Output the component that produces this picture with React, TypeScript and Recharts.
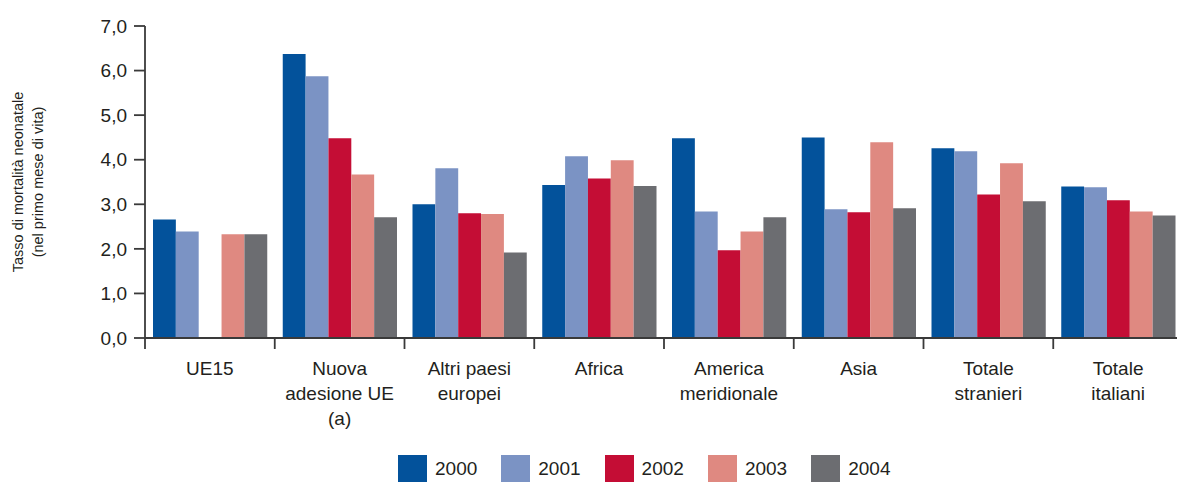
import React from "react";
import { BarChart, Bar, XAxis, YAxis, Label } from "recharts";

const categories = [
  "UE15",
  "Nuova\nadesione UE\n(a)",
  "Altri paesi\neuropei",
  "Africa",
  "America\nmeridionale",
  "Asia",
  "Totale\nstranieri",
  "Totale\nitaliani",
];

const years = ["2000", "2001", "2002", "2003", "2004"];
const colors = ["#03529B", "#7B93C4", "#C40D35", "#DF8981", "#6C6D71"];

const v2000 = [2.66, 6.37, 3.0, 3.43, 4.48, 4.5, 4.26, 3.4];
const v2001 = [2.39, 5.87, 3.81, 4.08, 2.84, 2.89, 4.19, 3.38];
const v2002 = [null, 4.48, 2.8, 3.58, 1.97, 2.82, 3.22, 3.09];
const v2003 = [2.33, 3.67, 2.78, 3.99, 2.39, 4.39, 3.92, 2.84];
const v2004 = [2.33, 2.71, 1.92, 3.41, 2.71, 2.91, 3.07, 2.75];

const yTicks = [0, 1, 2, 3, 4, 5, 6, 7];

const series = [v2000, v2001, v2002, v2003, v2004];
const data = categories.map((name, i) => {
  const row: Record<string, string | number | null> = { name };
  years.forEach((y, k) => (row[y] = series[k][i]));
  return row;
});

const FONT = "'Liberation Sans', Arial, Helvetica, sans-serif";
const TEXT = "#231f20";
const AXIS = "#3a3a3a";
const W = 1200;
const H = 482;
const margin = { top: 26, right: 17, left: 0, bottom: 0 };
const Y_W = 145;
const band = (W - margin.left - margin.right - Y_W) / categories.length;

const CategoryTick = (props: any) => {
  const { x, y, payload } = props;
  const axisY = y - 11;
  const lines = String(payload.value).split("\n");
  return (
    <g>
      <line x1={x - band / 2} x2={x - band / 2} y1={axisY} y2={axisY + 11} stroke={AXIS} strokeWidth={1.8} />
      <text textAnchor="middle" fill={TEXT} fontSize={19} fontFamily={FONT}>
        {lines.map((l, i) => (
          <tspan key={i} x={x} y={y + 26 + i * 25}>{l}</tspan>
        ))}
      </text>
    </g>
  );
};

const YLabel = (props: any) => {
  const cy = 182;
  return (
    <g fill={TEXT} fontSize={14.5} fontFamily={FONT}>
      <text transform={`translate(18, ${cy}) rotate(-90)`} textAnchor="middle" dominantBaseline="central">
        Tasso di mortalità neonatale
      </text>
      <text transform={`translate(37.5, ${cy}) rotate(-90)`} textAnchor="middle" dominantBaseline="central">
        (nel primo mese di vita)
      </text>
    </g>
  );
};

export default function App() {
  return (
    <div style={{ position: "absolute", left: 0, top: 0, width: 1177, height: 482, overflow: "hidden", background: "#fff", fontFamily: FONT }}>
      <BarChart width={W} height={H} data={data} margin={margin} barGap={0} barSize={22.85}>
        <XAxis
          dataKey="name"
          interval={0}
          height={H - 338}
          tickSize={11}
          tickMargin={0}
          tickLine={false}
          axisLine={{ stroke: AXIS, strokeWidth: 1.8 }}
          tick={<CategoryTick />}
        />
        <YAxis
          width={Y_W}
          domain={[0, 7]}
          ticks={yTicks}
          interval={0}
          tickSize={11}
          tickMargin={7}
          axisLine={{ stroke: AXIS, strokeWidth: 1.8 }}
          tickLine={{ stroke: AXIS, strokeWidth: 1.8 }}
          tick={{ fill: TEXT, fontSize: 19, fontFamily: FONT }}
          tickFormatter={(v: number) => v.toFixed(1).replace(".", ",")}
        >
          <Label content={<YLabel />} />
        </YAxis>
        {years.map((y, k) => (
          <Bar key={y} dataKey={y} fill={colors[k]} isAnimationActive={false} />
        ))}
      </BarChart>
      <div style={{ position: "absolute", left: 398, top: 455, display: "flex" }}>
        {years.map((y, k) => (
          <div key={y} style={{ display: "flex", alignItems: "center", width: 103.3 }}>
            <span style={{ display: "inline-block", width: 29, height: 27, background: colors[k] }} />
            <span style={{ marginLeft: 8, fontSize: 19, color: TEXT, lineHeight: "27px" }}>{y}</span>
          </div>
        ))}
      </div>
    </div>
  );
}
